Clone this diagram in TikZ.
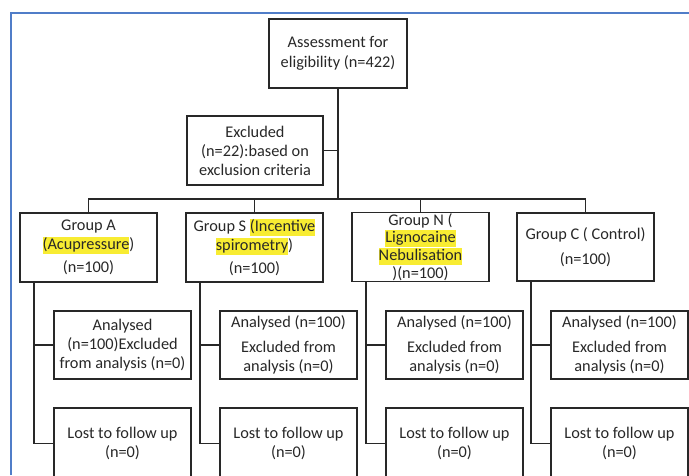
\documentclass[tikz,border=0pt]{standalone}
\usepackage{fontspec}
\setmainfont{Carlito}
\definecolor{hly}{RGB}{248,236,50}
\definecolor{frameblue}{RGB}{80,125,200}
\definecolor{ink}{RGB}{40,40,40}
\newcommand\hlw[1]{{\fboxsep=0pt\colorbox{hly}{\rule[-4.5pt]{0pt}{17pt}#1}}}
\tikzset{
  box/.style={draw=ink, line width=1.6pt, rectangle, inner sep=1pt, align=center,
    text=ink, font=\fontsize{16.3}{19}\selectfont},
  colbox/.style={box, minimum width=137pt},
  link/.style={draw=ink, line width=1.7pt}
}
\begin{document}
\begin{tikzpicture}[x=1pt,y=-1pt]
\useasboundingbox (0,0) rectangle (689,475);
\clip (0,0) rectangle (689,475);
\fill[white] (0,0) rectangle (689,475);
% blue frame
\draw[frameblue, line width=1.6pt] (11,475) -- (11,13) -- (695,13);

% top
\node[box, minimum width=138pt, minimum height=69pt, font=\fontsize{16.3}{20}\selectfont] (assess) at (338,53.5) {Assessment for\\eligibility (n=422)};
\node[box, minimum width=136pt, minimum height=69pt] (excl) at (255,150.5) {Excluded\\(n=22):based on\\exclusion criteria};
\coordinate (hub) at (338,199);

% groups
\node[colbox, minimum height=69pt] (gA) at (88.5,247.5) {Group A\\\hlw{(Acupressure})\\[4pt](n=100)};
\node[colbox, minimum height=69pt] (gS) at (254.5,247.5) {Group S \hlw{(Incentive}\\\hlw{spirometry})\\[4pt](n=100)};
\node[colbox, minimum height=68pt, font=\fontsize{16.3}{17.7}\selectfont] (gN) at (420.5,247) {Group N (\\\hlw{Lignocaine}\\\hlw{Nebulisation}\\)(n=100)};
\node[colbox, minimum height=68pt] (gC) at (585.5,247) {Group C ( Control)\\[6pt](n=100)};

% analysed
\node[colbox, minimum height=68pt] (aA) at (122.5,345) {Analysed\\(n=100)Excluded\\from analysis (n=0)};
\node[colbox, minimum height=68pt] (aS) at (288.5,345) {Analysed (n=100)\\[6pt]Excluded from\\analysis (n=0)};
\node[colbox, minimum height=68pt] (aN) at (454.5,345) {Analysed (n=100)\\[6pt]Excluded from\\analysis (n=0)};
\node[colbox, minimum height=68pt] (aC) at (619.5,345) {Analysed (n=100)\\[6pt]Excluded from\\analysis (n=0)};

% lost
\node[colbox, minimum height=71pt] (lA) at (122.5,443.5) {Lost to follow up\\(n=0)};
\node[colbox, minimum height=71pt] (lS) at (288.5,443.5) {Lost to follow up\\(n=0)};
\node[colbox, minimum height=71pt] (lN) at (454.5,443.5) {Lost to follow up\\(n=0)};
\node[colbox, minimum height=71pt] (lC) at (619.5,443.5) {Lost to follow up\\(n=0)};

% connectors
\draw[link] (assess.south) -- (hub);
\draw[link] (excl.east) -- (excl.east -| hub);
\draw[link] (gA.north) |- (gC.north |- hub) -- (gC.north);
\draw[link] (gS.north) -- (gS.north |- hub);
\draw[link] (gN.north) -- (gN.north |- hub);

\foreach \g/\a/\l in {gA/aA/lA, gS/aS/lS, gN/aN/lN, gC/aC/lC}{
  \coordinate (v\g) at ([xshift=15pt]\g.south west);
  \draw[link] (v\g) |- (\l.west);
  \draw[link] (\a.west) -- (\a.west -| v\g);
}
\end{tikzpicture}
\end{document}
